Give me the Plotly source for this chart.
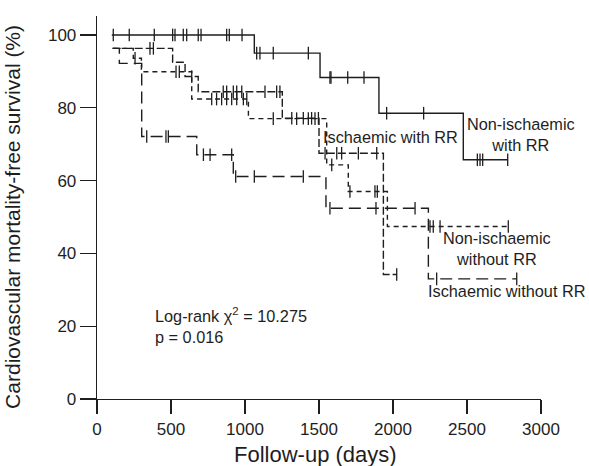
import plotly.graph_objects as go

# ---------------- data ----------------
# Non-ischaemic with RR (solid)
nir_start = [100, 100.0]
nir_event_days = [1063, 1507, 1905, 2475]
nir_event_surv = [95.0, 88.3, 78.5, 65.7]
nir_censor_days = [110, 218, 387, 511, 527, 583, 606, 684, 703, 876, 894, 980,
                   1079, 1101, 1191, 1428, 1574, 1581, 1694, 1804, 1957, 2207,
                   2570, 2588, 2606, 2775]
nir_end = 2775

# Ischaemic with RR (medium dash)
ir_start = [106, 96.3]
ir_event_days = [511, 595, 684, 1252, 1500, 1935]
ir_event_surv = [92.5, 88.6, 84.4, 77.1, 67.5, 34.2]
ir_censor_days = [358, 381, 640, 853, 876, 921, 944, 978, 1135, 1214, 1236,
                  1316, 1394, 1450, 1496, 1541, 1620, 1653, 1766, 1890, 2025]
ir_end = 2025

# Non-ischaemic without RR (short dash)
nwo_start = [106, 96.3]
nwo_event_days = [245, 300, 640, 1023, 1552, 1698, 1962]
nwo_event_surv = [93.6, 89.9, 82.4, 77.0, 64.3, 57.0, 47.4]
nwo_censor_days = [257, 534, 556, 775, 808, 842, 876, 910, 944, 989, 1012,
                   1191, 1349, 1428, 1473, 1586, 1709, 1878, 1894, 2250, 2272,
                   2318, 2779]
nwo_end = 2779

# Ischaemic without RR (long dash)
iwo_start = [106, 96.3]
iwo_event_days = [151, 302, 674, 921, 1547, 2239]
iwo_event_surv = [92.2, 72.1, 67.1, 61.1, 52.4, 33.0]
iwo_censor_days = [336, 466, 482, 719, 764, 910, 937, 1063, 1394, 1574, 1885,
                   2149, 2295, 2836]
iwo_end = 2836

x_ticks = [0, 500, 1000, 1500, 2000, 2500, 3000]
y_ticks = [0, 20, 40, 60, 80, 100]

INK = "#1e1e1e"
FONT = "Liberation Sans, Arial, Helvetica, sans-serif"


def step_xy(start, ev_days, ev_surv, end):
    xs = [start[0]] + list(ev_days) + [end]
    ys = [start[1]] + list(ev_surv) + [ev_surv[-1]]
    return xs, ys


def surv_at(day, start, ev_days, ev_surv):
    s = start[1]
    for d, v in zip(ev_days, ev_surv):
        if d <= day:
            s = v
    return s


fig = go.Figure()

groups = [
    (nir_start, nir_event_days, nir_event_surv, nir_censor_days, nir_end, "solid"),
    (ir_start, ir_event_days, ir_event_surv, ir_censor_days, ir_end, "8px,3px"),
    (nwo_start, nwo_event_days, nwo_event_surv, nwo_censor_days, nwo_end, "5px,4px"),
    (iwo_start, iwo_event_days, iwo_event_surv, iwo_censor_days, iwo_end, "12px,6px"),
]

for start, ed, es, cd, end, dash in groups:
    xs, ys = step_xy(start, ed, es, end)
    fig.add_trace(go.Scatter(x=xs, y=ys, mode="lines", line_shape="hv",
                             line=dict(color=INK, width=1.4, dash=dash),
                             showlegend=False, hoverinfo="skip"))
    cy = [surv_at(d, start, ed, es) for d in cd]
    fig.add_trace(go.Scatter(x=cd, y=cy, mode="markers",
                             marker=dict(symbol="line-ns", size=9,
                                         line=dict(color=INK, width=1.3)),
                             showlegend=False, hoverinfo="skip"))

ann_font = dict(family=FONT, size=16.3, color=INK)
annotations = [
    dict(x=1512, y=72.1, text="Ischaemic with RR", xanchor="left", yanchor="middle"),
    dict(x=2868, y=72.7, text="Non-ischaemic<br>with RR", xanchor="center", yanchor="middle"),
    dict(x=2703, y=41.3, text="Non-ischaemic<br>without RR", xanchor="center", yanchor="middle"),
    dict(x=2765, y=29.6, text="Ischaemic without RR", xanchor="center", yanchor="middle"),
    dict(x=378, y=20.2, text="Log-rank \u03c7<sup>2</sup> = 10.275<br>p = 0.016",
         xanchor="left", yanchor="middle", align="left"),
]
for a in annotations:
    a.update(xref="x", yref="y", showarrow=False, font=ann_font)
    if "align" not in a:
        a["align"] = "center"

# axis titles placed as paper annotations
annotations.append(dict(xref="paper", yref="paper", x=0.491, y=-0.145,
                        text="Follow-up (days)", showarrow=False,
                        xanchor="center", yanchor="middle",
                        font=dict(family=FONT, size=22, color=INK)))
annotations.append(dict(xref="paper", yref="paper", x=-0.191, y=0.476,
                        text="Cardiovascular mortality-free survival (%)",
                        showarrow=False, textangle=-90,
                        xanchor="center", yanchor="middle",
                        font=dict(family=FONT, size=21, color=INK)))

fig.update_layout(
    width=589, height=466,
    margin=dict(l=97, r=48, t=16, b=67),
    paper_bgcolor="white", plot_bgcolor="white",
    font=dict(family=FONT, color=INK),
    annotations=annotations,
    xaxis=dict(range=[0, 3000], tickvals=x_ticks, ticks="outside", ticklen=14,
               tickwidth=1.3, tickcolor=INK, showline=True, linecolor=INK,
               linewidth=1.3, showgrid=False, zeroline=False,
               tickfont=dict(size=17, family=FONT, color=INK),
               automargin=False),
    yaxis=dict(range=[0, 105.2], tickvals=y_ticks, ticks="outside", ticklen=16,
               tickwidth=1.3, tickcolor=INK, showline=True, linecolor=INK,
               linewidth=1.3, showgrid=False, zeroline=False,
               tickfont=dict(size=17, family=FONT, color=INK),
               automargin=False),
)

fig.write_html("out.html",
               config={"displayModeBar": False, "staticPlot": True},
               post_script="document.body.style.margin='0px';"
                           "document.body.style.overflow='hidden';")
